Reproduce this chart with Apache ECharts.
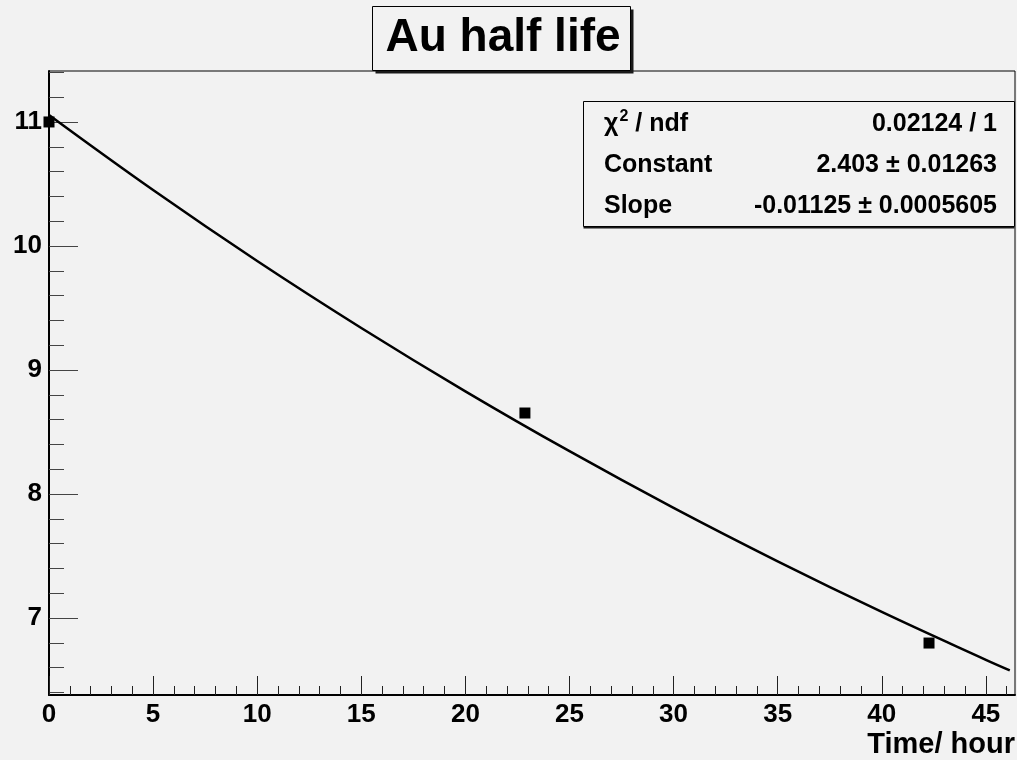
<!DOCTYPE html>
<html>
<head>
<meta charset="utf-8">
<script src="https://cdn.jsdelivr.net/npm/echarts@6/dist/echarts.min.js"></script>
<style>
html,body{margin:0;padding:0;background:#f2f2f2;}
#chart{width:1017px;height:760px;}
</style>
</head>
<body>
<div id="chart"></div>
<script>
// Measured data points (time in hours, value)
const timeHours = [0, 22.86, 42.27];
const values = [11.0, 8.653, 6.798];
// Fit curve
const fitX = [0, 5, 10, 15, 20, 25, 30, 35, 40, 45, 46.15];
const fitY = [11.056, 10.451, 9.879, 9.339, 8.828, 8.345, 7.888, 7.457, 7.049, 6.663, 6.578];
// Axis ticks
const xMajorTicks = [0, 5, 10, 15, 20, 25, 30, 35, 40, 45];
const xMinorTicks = [0,1,2,3,4,5,6,7,8,9,10,11,12,13,14,15,16,17,18,19,20,21,22,23,24,25,26,27,28,29,30,31,32,33,34,35,36,37,38,39,40,41,42,43,44,45,46];
const yMajorTicks = [7, 8, 9, 10, 11];
const yMinorTicks = [6.4,6.6,6.8,7.0,7.2,7.4,7.6,7.8,8.0,8.2,8.4,8.6,8.8,9.0,9.2,9.4,9.6,9.8,10.0,10.2,10.4,10.6,10.8,11.0,11.2,11.4];
// Texts
const titleText = 'Au half life';
const xAxisTitle = 'Time/ hour';
const statLabels = ['{a|χ}{s|2}{a| / ndf}', '{a|Constant}', '{a|Slope}'];
const statValues = ['0.02124 / 1', '2.403 ± 0.01263', '-0.01125 ± 0.0005605'];

const FONT = '"Liberation Sans", Arial, Helvetica, sans-serif';
const chart = echarts.init(document.getElementById('chart'));

const X_MIN = 0, X_MAX = 46.4, Y_MIN = 6.379, Y_MAX = 11.411;

function boxWithShadow(x, y, w, h, dx, dy) {
  return [{
    type: 'rect', z: 20,
    shape: {x: x + dx, y: y + dy, width: w, height: h},
    style: {fill: '#1a1a1a', stroke: null}
  }, {
    type: 'rect', z: 21,
    shape: {x: x, y: y, width: w, height: h},
    style: {fill: '#f2f2f2', stroke: '#000', lineWidth: 1}
  }];
}

const gfx = [];
// title box
gfx.push(...boxWithShadow(372.5, 6.5, 258, 64, 3, 3));
gfx.push({
  type: 'text', x: 503, y: 38, z: 22,
  style: {text: titleText, fill: '#000', font: 'bold 46px ' + FONT, textAlign: 'center', textVerticalAlign: 'middle'}
});
// stats box
gfx.push(...boxWithShadow(583.5, 101.5, 431, 125, 0, 2));
statLabels.forEach((t, i) => {
  gfx.push({
    type: 'text', x: 604, y: 124 + i * 41, z: 22,
    style: {
      text: t, fill: '#000', font: 'bold 25px ' + FONT, textAlign: 'left', textVerticalAlign: 'middle',
      rich: {
        a: {font: 'bold 25px ' + FONT, fill: '#000', lineHeight: 30},
        s: {font: 'bold 16px ' + FONT, fill: '#000', padding: [0, 0, 14, 1], lineHeight: 30}
      }
    }
  });
  gfx.push({
    type: 'text', x: 997, y: 124 + i * 41, z: 22,
    style: {text: statValues[i], fill: '#000', font: 'bold 25px ' + FONT, textAlign: 'right', textVerticalAlign: 'middle'}
  });
});
// x axis title
gfx.push({
  type: 'text', x: 1015, y: 745, z: 22,
  style: {text: xAxisTitle, fill: '#000', font: 'bold 29px ' + FONT, textAlign: 'right', textVerticalAlign: 'middle'}
});

chart.setOption({
  backgroundColor: '#f2f2f2',
  animation: false,
  grid: {left: 49, right: 2, top: 71, bottom: 65, show: true, borderColor: '#000', borderWidth: 1, backgroundColor: 'transparent'},
  xAxis: [{
    type: 'value', min: X_MIN, max: X_MAX, position: 'bottom',
    axisLine: {show: true, onZero: false, lineStyle: {color: '#000', width: 2}},
    axisTick: {show: true, inside: true, length: 19, customValues: xMajorTicks, lineStyle: {color: '#222', width: 1}},
    axisLabel: {customValues: xMajorTicks, margin: 7, color: '#000', fontFamily: FONT, fontWeight: 'bold', fontSize: 26},
    splitLine: {show: false}
  }, {
    type: 'value', min: X_MIN, max: X_MAX, position: 'bottom',
    axisLine: {show: false},
    axisTick: {show: true, inside: true, length: 9, customValues: xMinorTicks, lineStyle: {color: '#222', width: 1}},
    axisLabel: {show: false},
    splitLine: {show: false}
  }],
  yAxis: [{
    type: 'value', min: Y_MIN, max: Y_MAX, position: 'left',
    axisLine: {show: true, onZero: false, lineStyle: {color: '#000', width: 2}},
    axisTick: {show: true, inside: true, length: 29, customValues: yMajorTicks, lineStyle: {color: '#444', width: 1}},
    axisLabel: {customValues: yMajorTicks, margin: 7, color: '#000', fontFamily: FONT, fontWeight: 'bold', fontSize: 26},
    splitLine: {show: false}
  }, {
    type: 'value', min: Y_MIN, max: Y_MAX, position: 'left',
    axisLine: {show: false},
    axisTick: {show: true, inside: true, length: 15, customValues: yMinorTicks, lineStyle: {color: '#444', width: 1}},
    axisLabel: {show: false},
    splitLine: {show: false}
  }],
  series: [{
    name: 'fit', type: 'line', xAxisIndex: 0, yAxisIndex: 0,
    data: fitX.map((x, i) => [x, fitY[i]]),
    smooth: 0.4, showSymbol: false, symbol: 'none',
    lineStyle: {color: '#000', width: 2.5}, z: 3
  }, {
    name: 'data', type: 'scatter', xAxisIndex: 0, yAxisIndex: 0,
    data: timeHours.map((x, i) => [x, values[i]]),
    symbol: 'rect', symbolSize: 11,
    itemStyle: {color: '#000', opacity: 1}, z: 4
  }],
  graphic: gfx
});
</script>
</body>
</html>
